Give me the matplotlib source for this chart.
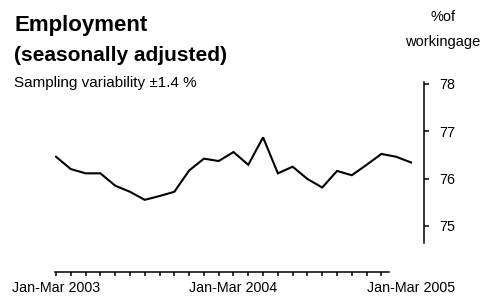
import numpy as np
import matplotlib
matplotlib.use("Agg")
import matplotlib.pyplot as plt
import matplotlib.transforms as mtransforms

# rolling quarters, Jan-Mar 2003 .. Jan-Mar 2005
months = np.arange(25)
employment = [76.46, 76.20, 76.11, 76.11, 75.85, 75.72, 75.55, 75.63, 75.72,
              76.17, 76.42, 76.37, 76.56, 76.29, 76.87, 76.11, 76.25, 75.99,
              75.81, 76.16, 76.07, 76.29, 76.52, 76.46, 76.34]
year_pos = [0, 12, 24]
year_labels = ["Jan-Mar 2003", "Jan-Mar 2004", "Jan-Mar 2005"]
yticks = [75, 76, 77, 78]

plt.rcParams['font.family'] = ['Liberation Sans', 'DejaVu Sans']

W, H = 486, 300
fig = plt.figure(figsize=(W / 100, H / 100), dpi=100)
ax = fig.add_axes([55 / W, 28 / H, 369 / W, 190 / H])

ax.plot(months, employment, color="black", lw=1.5, solid_joinstyle="miter")
ax.set_xlim(-0.068, 24.88)
ax.set_ylim(74.025, 78.04)

ax.spines['left'].set_visible(False)
ax.spines['top'].set_visible(False)
ax.spines['right'].set_bounds(74.64, 78.04)
ax.spines['bottom'].set_bounds(-0.068, 22.52)
for s in ('right', 'bottom'):
    ax.spines[s].set_linewidth(1.1)

ax.yaxis.tick_right()
ax.set_yticks(yticks)
ax.set_yticklabels([str(v) for v in yticks], fontsize=10.3)
ax.tick_params(axis='y', direction='out', length=3.6, width=1.1, pad=7.5)

ax.set_xticks(np.arange(23))
ax.set_xticklabels([])
ax.tick_params(axis='x', direction='out', length=3, width=1.1)

trans = mtransforms.blended_transform_factory(ax.transData, fig.transFigure)
for p, lab in zip(year_pos, year_labels):
    ax.text(p, 1 - 288 / H, lab, transform=trans, ha='center', va='center',
            fontsize=10.3, clip_on=False)

fig.text(14 / W, 1 - 31 / H, "Employment", fontsize=16, fontweight='bold',
         va='baseline')
fig.text(14 / W, 1 - 61 / H, "(seasonally adjusted)", fontsize=15,
         fontweight='bold', va='baseline')
fig.text(14 / W, 1 - 87 / H, "Sampling variability ±1.4 %", fontsize=11,
         va='baseline')
fig.text(443 / W, 1 - 17 / H, "%of", fontsize=10.5, ha='center', va='center')
fig.text(443 / W, 1 - 42 / H, "workingage", fontsize=10.5, ha='center',
         va='center')

fig.savefig("out.png", dpi=100)
